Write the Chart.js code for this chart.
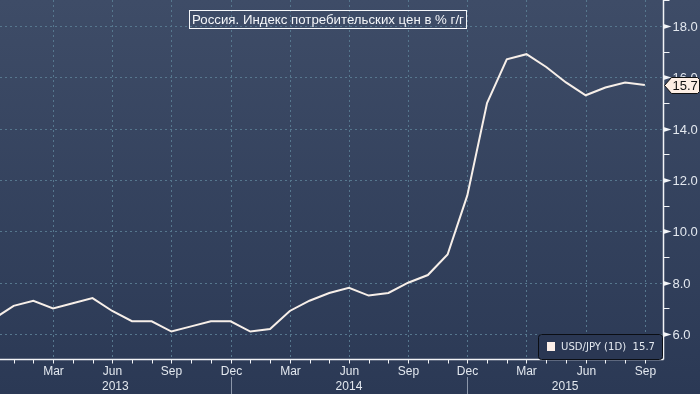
<!DOCTYPE html>
<html>
<head>
<meta charset="utf-8">
<script src="https://cdn.jsdelivr.net/npm/chart.js@4.4.1/dist/chart.umd.min.js"></script>
<style>
  html, body { margin: 0; padding: 0; background: #2c3a56; }
  #wrap { width: 700px; height: 394px; }
</style>
</head>
<body>
<div id="wrap"><canvas id="cpiChart" width="700" height="394"></canvas></div>
<script>
// monthly points, Dec 2012 .. Sep 2015
const months = [
  'Dec 2012',
  'Jan 2013', 'Feb 2013', 'Mar 2013', 'Apr 2013', 'May 2013', 'Jun 2013',
  'Jul 2013', 'Aug 2013', 'Sep 2013', 'Oct 2013', 'Nov 2013', 'Dec 2013',
  'Jan 2014', 'Feb 2014', 'Mar 2014', 'Apr 2014', 'May 2014', 'Jun 2014',
  'Jul 2014', 'Aug 2014', 'Sep 2014', 'Oct 2014', 'Nov 2014', 'Dec 2014',
  'Jan 2015', 'Feb 2015', 'Mar 2015', 'Apr 2015', 'May 2015', 'Jun 2015',
  'Jul 2015', 'Aug 2015', 'Sep 2015'
];
const cpiValues = [
  6.6,
  7.1, 7.3, 7.0, 7.2, 7.4, 6.9, 6.5, 6.5, 6.1, 6.3, 6.5, 6.5,
  6.1, 6.2, 6.9, 7.3, 7.6, 7.8, 7.5, 7.6, 8.0, 8.3, 9.1, 11.4,
  15.0, 16.7, 16.9, 16.4, 15.8, 15.3, 15.6, 15.8, 15.7
];
const yTickValues = [6, 8, 10, 12, 14, 16, 18];
const yMinorValues = [7, 9, 11, 13, 15, 17, 19];
const xTickLabels = ['Mar', 'Jun', 'Sep', 'Dec'];
const yearLabels = ['2013', '2014', '2015'];
const titleText = 'Россия. Индекс потребительских цен в % г/г';
const legendText = 'USD/JPY (1D)  15.7';
const lastValue = 15.7;

const gridColor = '#56778e';
const axisColor = '#f2f4f7';
const labelColor = '#e3e8ef';
const lineColor = '#f7efe9';

// fit a font size so the text takes a given width
function fitFont(ctx, text, family, width) {
  ctx.font = '12px ' + family;
  const w = ctx.measureText(text).width;
  return (12 * width / w).toFixed(2) + 'px ' + family;
}

const decorPlugin = {
  id: 'decor',
  beforeDraw(chart) {
    const ctx = chart.ctx;
    const g = ctx.createLinearGradient(0, 0, 0, chart.height);
    g.addColorStop(0, '#3e4c67');
    g.addColorStop(1, '#2b3955');
    ctx.save();
    ctx.fillStyle = g;
    ctx.fillRect(0, 0, chart.width, chart.height);
    ctx.restore();
  },
  beforeDatasetsDraw(chart) {
    const ctx = chart.ctx;
    const area = chart.chartArea;
    const xs = chart.scales.x, ys = chart.scales.y;
    ctx.save();
    ctx.strokeStyle = gridColor;
    ctx.lineWidth = 1;
    ctx.setLineDash([2, 3]);
    yTickValues.forEach(v => {
      const y = Math.round(ys.getPixelForValue(v)) + 0.5;
      ctx.beginPath();
      ctx.moveTo(area.left, y);
      ctx.lineTo(area.right, y);
      ctx.stroke();
    });
    months.forEach((m, i) => {
      if (!xTickLabels.includes(m.split(' ')[0])) return;
      const x = Math.round(xs.getPixelForValue(i)) + 0.5;
      if (x < area.left || x > area.right) return;
      ctx.beginPath();
      ctx.moveTo(x, area.top);
      ctx.lineTo(x, area.bottom);
      ctx.stroke();
    });
    ctx.restore();
  },
  afterDatasetsDraw(chart) {
    const ctx = chart.ctx;
    const area = chart.chartArea;
    const xs = chart.scales.x, ys = chart.scales.y;
    const right = Math.round(area.right) + 0.5;
    const bottom = Math.round(area.bottom) + 0.5;

    ctx.save();
    // axis lines
    ctx.strokeStyle = axisColor;
    ctx.lineWidth = 1.5;
    ctx.beginPath();
    ctx.moveTo(right, 0);
    ctx.lineTo(right, bottom);
    ctx.moveTo(0, bottom);
    ctx.lineTo(right, bottom);
    ctx.stroke();

    // y minor ticks
    ctx.lineWidth = 1;
    yMinorValues.forEach(v => {
      const y = Math.round(ys.getPixelForValue(v)) + 0.5;
      if (y < 0 || y > bottom) return;
      ctx.beginPath();
      ctx.moveTo(right, y);
      ctx.lineTo(right + 6, y);
      ctx.stroke();
    });

    // y major ticks: small arrow + label
    ctx.fillStyle = axisColor;
    ctx.font = '13px "Liberation Sans"';
    ctx.textBaseline = 'middle';
    ctx.textAlign = 'left';
    yTickValues.forEach(v => {
      const y = Math.round(ys.getPixelForValue(v)) + 0.5;
      ctx.fillStyle = axisColor;
      ctx.beginPath();
      ctx.moveTo(right, y - 2.5);
      ctx.lineTo(right + 8, y);
      ctx.lineTo(right, y + 2.5);
      ctx.closePath();
      ctx.fill();
      ctx.fillStyle = labelColor;
      ctx.fillText(v.toFixed(1), right + 9, y + 1);
    });

    // x month ticks and labels
    ctx.strokeStyle = axisColor;
    ctx.font = '12px "Liberation Sans"';
    ctx.textAlign = 'center';
    months.forEach((m, i) => {
      const x = Math.round(xs.getPixelForValue(i)) + 0.5;
      if (x < area.left || x > area.right) return;
      ctx.beginPath();
      ctx.moveTo(x, bottom);
      ctx.lineTo(x, bottom + 4);
      ctx.stroke();
      const name = m.split(' ')[0];
      if (xTickLabels.includes(name)) {
        ctx.fillStyle = labelColor;
        ctx.fillText(name, x, 372);
      }
    });

    // year labels centred on the visible part of each year, separators at Dec
    yearLabels.forEach(yr => {
      const startIdx = months.indexOf('Dec ' + (Number(yr) - 1));
      const endIdx = months.indexOf('Dec ' + yr);
      const x0 = startIdx < 0 ? area.left : Math.max(area.left, xs.getPixelForValue(startIdx));
      const x1 = endIdx < 0 ? area.right : Math.min(area.right, xs.getPixelForValue(endIdx));
      ctx.fillStyle = labelColor;
      ctx.fillText(yr, (x0 + x1) / 2, 387);
      if (endIdx >= 0) {
        const sx = Math.round(xs.getPixelForValue(endIdx)) + 0.5;
        ctx.strokeStyle = '#8c97aa';
        ctx.beginPath();
        ctx.moveTo(sx, 377);
        ctx.lineTo(sx, chart.height);
        ctx.stroke();
      }
    });

    // last value marker on the right axis
    const my = Math.round(ys.getPixelForValue(lastValue)) + 0.5;
    ctx.beginPath();
    ctx.moveTo(right + 1, my);
    ctx.lineTo(right + 8, my - 8);
    ctx.lineTo(697.5, my - 8);
    ctx.lineTo(699.5, my - 6);
    ctx.lineTo(699.5, my + 6);
    ctx.lineTo(697.5, my + 8);
    ctx.lineTo(right + 8, my + 8);
    ctx.closePath();
    ctx.fillStyle = '#fdeee4';
    ctx.fill();
    ctx.strokeStyle = '#111';
    ctx.lineWidth = 1;
    ctx.stroke();
    ctx.fillStyle = '#111';
    ctx.textAlign = 'left';
    ctx.font = '13px "Liberation Sans"';
    ctx.fillText(lastValue.toFixed(1), right + 9, my + 1);

    // legend box
    ctx.beginPath();
    ctx.roundRect(538.5, 334.5, 124, 25, 3);
    ctx.fillStyle = '#2a3753';
    ctx.fill();
    ctx.strokeStyle = '#0b0e14';
    ctx.stroke();
    ctx.fillStyle = '#fbeee8';
    ctx.fillRect(547, 342, 8, 9);
    ctx.fillStyle = labelColor;
    ctx.font = fitFont(ctx, legendText, '"DejaVu Sans"', 94);
    ctx.fillText(legendText, 561, 347);

    // title box
    ctx.strokeStyle = '#f4f6f9';
    ctx.strokeRect(189.5, 10.5, 277, 18);
    ctx.fillStyle = '#f4f6f9';
    ctx.textAlign = 'center';
    ctx.font = fitFont(ctx, titleText, '"Liberation Sans"', 272);
    ctx.fillText(titleText, 328, 20.5);
    ctx.restore();
  }
};

function renderChart() {
  const ctx = document.getElementById('cpiChart').getContext('2d');
  const points = cpiValues.map((v, i) => ({ x: i, y: v }));

  new Chart(ctx, {
    type: 'line',
    data: {
      labels: months,
      datasets: [{
        label: 'CPI y/y',
        data: points,
        borderColor: lineColor,
        borderWidth: 2,
        pointRadius: 0,
        tension: 0
      }]
    },
    options: {
      responsive: false,
      animation: false,
      devicePixelRatio: 1,
      layout: { padding: { left: 0, right: 37, top: 0, bottom: 35 } },
      plugins: { legend: { display: false }, tooltip: { enabled: false } },
      scales: {
        x: { type: 'linear', min: 0.31, max: 33.92, display: false },
        y: { min: 5.03, max: 19.01, display: false }
      }
    },
    plugins: [decorPlugin]
  });
}

renderChart();
</script>
</body>
</html>
